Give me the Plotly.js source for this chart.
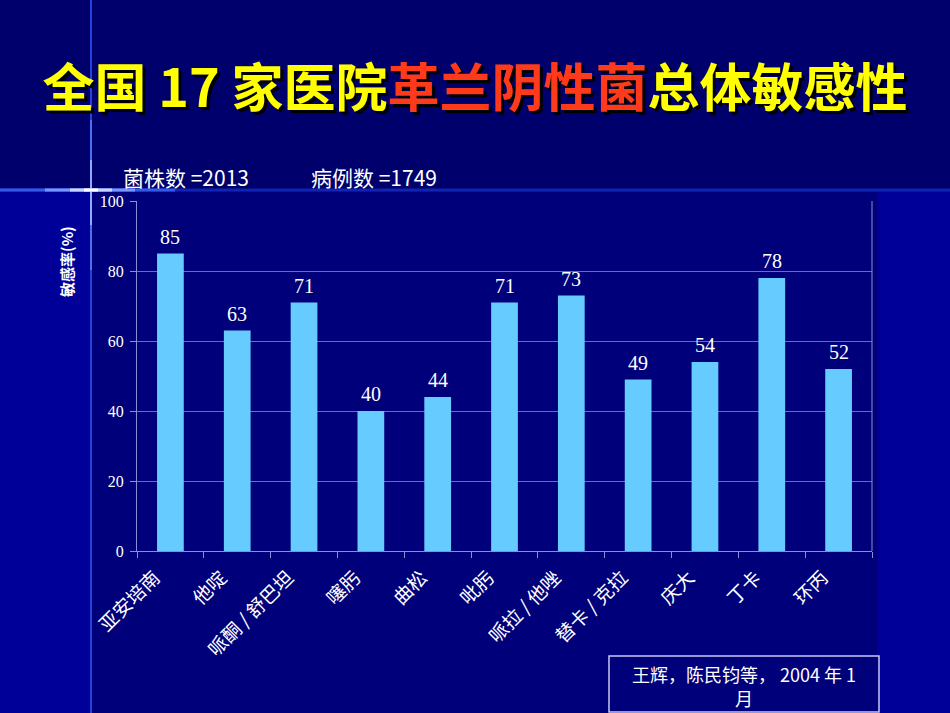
<!DOCTYPE html>
<html><head><meta charset="utf-8">
<script src="https://cdn.plot.ly/plotly-3.0.1.min.js"></script>
<style>html,body{margin:0;padding:0;background:#000099;}#chart{width:950px;height:713px;}</style>
</head><body><div id="chart"></div>
<script>
const categories = ["亚安培南","他啶","哌酮 / 舒巴坦","噻肟","曲松","吡肟","哌拉 / 他唑","替卡 / 克拉","庆大","丁卡","环丙"];
const values = [85,63,71,40,44,71,73,49,54,78,52];
const yTicks = [0,20,40,60,80,100];

const cjk = '"Noto Sans CJK SC", "Noto Sans", sans-serif';
const serif = '"Liberation Serif", "DejaVu Serif", serif';

// layout geometry helpers (pixel -> paper)
const L = 137, T = 201, PW = 735, PH = 350;
const px = x => (x - L) / PW;
const py = y => (T + PH - y) / PH;

const trace = {
  type: 'bar', x: categories, y: values,
  marker: {color: '#66ccff', line: {width: 0}},
  hoverinfo: 'skip'
};

const valueLabels = categories.map((c, i) => ({
  x: c, y: values[i], xref: 'x', yref: 'y', text: String(values[i]),
  showarrow: false, yshift: 17, yanchor: 'middle',
  font: {family: serif, size: 20, color: '#ffffff'}
}));

function seg(x0, y0, x1, y1, color, w) {
  return {type: 'line', xref: 'paper', yref: 'paper', x0: px(x0), x1: px(x1), y0: py(y0), y1: py(y1), line: {color: color, width: w}};
}

const layout = {
  width: 950, height: 713,
  paper_bgcolor: '#000099', plot_bgcolor: '#00007a',
  margin: {l: L, r: 950 - L - PW, t: T, b: 713 - T - PH},
  showlegend: false, bargap: 0.6,
  xaxis: {
    type: 'category', tickangle: -45,
    tickfont: {family: cjk, size: 19, color: '#ffffff'},
    showgrid: false, showline: true, linecolor: '#8c8cd8', linewidth: 1,
    ticks: 'outside', tickson: 'boundaries', ticklen: 6, tickcolor: '#8c8cd8',
    ticklabelshift: -16, ticklabelstandoff: 7,
    zeroline: false
  },
  yaxis: {
    range: [0, 100], tickvals: yTicks,
    tickfont: {family: serif, size: 16, color: '#ffffff'},
    showgrid: true, gridcolor: '#6a6ac4', gridwidth: 1,
    showline: true, linecolor: '#8c8cd8', ticks: 'outside', ticklen: 6, tickcolor: '#8c8cd8',
    ticklabelstandoff: 3, zeroline: false
  },
  title: {
    text: '全国 17 家医院<span style="color:#ff3a1a">革兰阴性菌</span>总体敏感性',
    font: {family: cjk, size: 52, color: '#ffff00', weight: 'bold', shadow: '3px 3px 0px #000000'},
    x: 0.5, xanchor: 'center', y: 0.876, yanchor: 'middle'
  },
  shapes: [
    {type: 'rect', xref: 'paper', yref: 'paper', x0: px(0), x1: px(950), y0: py(190), y1: py(0), fillcolor: '#00006c', line: {width: 0}, layer: 'below'},
    {type: 'rect', xref: 'paper', yref: 'paper', x0: px(91), x1: px(877), y0: py(713), y1: py(192), fillcolor: '#00007a', line: {width: 0}, layer: 'below'},
    {type: 'line', xref: 'paper', yref: 'paper', x0: 1, x1: 1, y0: 0, y1: 1, line: {color: '#8c8cd8', width: 1}},
    seg(91, 0, 91, 713, '#2444d8', 2),
    seg(91, 120, 91, 270, '#4c70f4', 2),
    seg(91, 160, 91, 225, '#90aaff', 2),
    seg(0, 190, 950, 190, 'rgba(30,60,200,0.6)', 3),
    seg(0, 190, 175, 190, '#3458ea', 3),
    seg(45, 190, 135, 190, '#7894ff', 3),
    seg(70, 190, 112, 190, '#c8d6ff', 3),
    seg(84, 190, 98, 190, '#ffffff', 3),
    {type: 'rect', xref: 'paper', yref: 'paper', x0: px(609), x1: px(879), y0: py(712), y1: py(656), line: {color: '#c8c8f0', width: 1.5}, fillcolor: 'rgba(0,0,0,0)'}
  ],
  annotations: valueLabels.concat([
    {text: '菌株数 =2013', xref: 'paper', yref: 'paper', x: px(121), y: py(177), xanchor: 'left', yanchor: 'middle', showarrow: false, font: {family: cjk, size: 21, color: '#ffffff'}},
    {text: '病例数 =1749', xref: 'paper', yref: 'paper', x: px(309), y: py(177), xanchor: 'left', yanchor: 'middle', showarrow: false, font: {family: cjk, size: 21, color: '#ffffff'}},
    {text: '敏感率(%)', xref: 'paper', yref: 'paper', x: px(66), y: py(262), xanchor: 'center', yanchor: 'middle', textangle: -90, showarrow: false, font: {family: cjk, size: 15, color: '#ffffff', weight: 'bold'}},
    {text: '王辉，陈民钧等， 2004 年 1', xref: 'paper', yref: 'paper', x: px(744), y: py(674), xanchor: 'center', yanchor: 'middle', showarrow: false, font: {family: cjk, size: 18, color: '#ffffff'}},
    {text: '月', xref: 'paper', yref: 'paper', x: px(744), y: py(698), xanchor: 'center', yanchor: 'middle', showarrow: false, font: {family: cjk, size: 18, color: '#ffffff'}}
  ])
};

Plotly.newPlot('chart', [trace], layout, {displayModeBar: false, staticPlot: true});
</script></body></html>
